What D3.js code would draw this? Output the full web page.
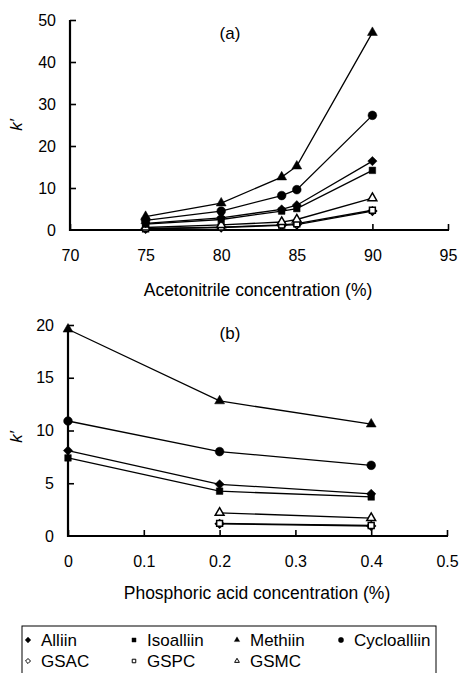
<!DOCTYPE html>
<html><head><meta charset="utf-8">
<script src="https://cdn.jsdelivr.net/npm/d3@7"></script>
<style>body{margin:0;background:#fff}text{font-family:"Liberation Sans",Arial,sans-serif}</style>
</head><body>
<svg id="c" width="461" height="673"></svg>
<script>
// ---- data ----
const seriesNames = ["Alliin","Isoalliin","Methiin","Cycloalliin","GSAC","GSPC","GSMC"];
const acetonitrile = [75, 80, 84, 85, 90];
const aAlliin      = [1.6, 2.9, 4.9, 5.9, 16.4];
const aIsoalliin   = [1.4, 2.5, 4.5, 5.1, 14.2];
const aMethiin     = [3.2, 6.4, 12.6, 15.2, 47.0];
const aCycloalliin = [2.3, 4.5, 8.2, 9.6, 27.3];
const aGSAC        = [0.3, 0.6, 1.1, 1.3, 4.5];
const aGSPC        = [0.3, 0.7, 1.2, 1.5, 4.7];
const aGSMC        = [0.6, 1.2, 1.9, 2.5, 7.6];

const phosphoric   = [0, 0.2, 0.4];
const bAlliin      = [8.1, 4.9, 4.0];
const bIsoalliin   = [7.4, 4.25, 3.7];
const bMethiin     = [19.6, 12.8, 10.6];
const bCycloalliin = [10.9, 8.0, 6.7];
const bGSAC        = [null, 1.15, 0.95];
const bGSPC        = [null, 1.2, 1.0];
const bGSMC        = [null, 2.2, 1.7];

const aTicksX = [70,75,80,85,90,95];
const aTicksY = [0,10,20,30,40,50];
const bTicksX = [0,0.1,0.2,0.3,0.4,0.5];
const bTicksY = [0,5,10,15,20];

const symbols = {
  Alliin:{type:d3.symbolDiamond2, fill:true},
  Isoalliin:{type:d3.symbolSquare2, fill:true},
  Methiin:{type:d3.symbolTriangle2, fill:true},
  Cycloalliin:{type:d3.symbolCircle, fill:true},
  GSAC:{type:d3.symbolDiamond2, fill:false},
  GSPC:{type:d3.symbolSquare2, fill:false},
  GSMC:{type:d3.symbolTriangle2, fill:false}
};

const svg = d3.select("#c");

function panel(opts){
  const g = svg.append("g");
  const x = d3.scaleLinear().domain(opts.xdom).range([opts.x0, opts.x1]);
  const y = d3.scaleLinear().domain(opts.ydom).range([opts.y0, opts.y1]);
  // axes (inner ticks)
  const xa = g.append("g").attr("transform",`translate(0,${opts.y0})`)
    .call(d3.axisBottom(x).tickValues(opts.xt).tickSize(-6).tickPadding(0).tickFormat(opts.xf));
  xa.select(".domain").attr("stroke-width",2.2).attr("d",`M${opts.x0},0H${opts.x1+1}`);
  xa.selectAll(".tick line").attr("stroke-width",1.6);
  xa.selectAll(".tick text").attr("y",opts.xlabDy).attr("font-size",16).attr("fill","#000");
  const ya = g.append("g").attr("transform",`translate(${opts.x0},0)`)
    .call(d3.axisLeft(y).tickValues(opts.yt).tickSize(-6).tickPadding(0));
  ya.select(".domain").attr("stroke-width",2.2).attr("d",`M0,${opts.y0+1}V${opts.y1}`);
  ya.selectAll(".tick line").attr("stroke-width",1.6);
  ya.selectAll(".tick text").attr("x",-14).attr("font-size",16).attr("fill","#000");
  ya.selectAll(".tick").filter(d=>d===0).select("line").remove();

  // titles
  g.append("text").attr("x",opts.titleX).attr("y",opts.titleY).attr("text-anchor","middle")
    .attr("font-size",17).text(opts.title);
  g.append("text").attr("transform",`translate(${opts.kx},${opts.ky}) rotate(-90)`)
    .attr("text-anchor","middle").attr("font-size",17).attr("font-style","italic").text("k\u2032");
  g.append("text").attr("x",opts.labX).attr("y",opts.labY).attr("text-anchor","middle")
    .attr("font-size",17.5).text(opts.lab);

  const line = d3.line().defined(d=>d[1]!==null).x(d=>x(d[0])).y(d=>y(d[1]));
  const order = ["GSAC","GSPC","GSMC","Isoalliin","Alliin","Cycloalliin","Methiin"];
  order.forEach(name=>{
    const vals = opts.data[name];
    const pts = opts.xs.map((xv,i)=>[xv, vals[i]]);
    g.append("path").attr("d", line(pts)).attr("fill","none").attr("stroke","#000").attr("stroke-width",1.3);
  });
  order.forEach(name=>{
    const vals = opts.data[name];
    const s = symbols[name];
    const size = s.type===d3.symbolCircle ? 60 : (s.type===d3.symbolTriangle2 ? 70 : 55);
    opts.xs.forEach((xv,i)=>{
      if(vals[i]===null) return;
      g.append("path").attr("d", d3.symbol(s.type, s.fill?size:size*0.8)())
        .attr("transform",`translate(${x(xv)},${y(vals[i])})`)
        .attr("fill", s.fill?"#000":"#fff").attr("stroke","#000").attr("stroke-width", s.fill?0.5:1.5);
    });
  });
}

panel({
  xdom:[70,95], ydom:[0,50], x0:70, x1:448, y0:230, y1:20,
  xt:aTicksX, yt:aTicksY, xf:d3.format("d"), xlabDy:20,
  title:"(a)", titleX:230, titleY:39, kx:22, ky:125,
  lab:"Acetonitrile concentration (%)", labX:258, labY:296,
  xs:acetonitrile,
  data:{Alliin:aAlliin,Isoalliin:aIsoalliin,Methiin:aMethiin,Cycloalliin:aCycloalliin,GSAC:aGSAC,GSPC:aGSPC,GSMC:aGSMC}
});
panel({
  xdom:[0,0.5], ydom:[0,20], x0:68, x1:447, y0:536, y1:325,
  xt:bTicksX, yt:bTicksY, xf:d=>d===0?"0":d3.format(".1f")(d), xlabDy:20,
  title:"(b)", titleX:230, titleY:339, kx:22, ky:437,
  lab:"Phosphoric acid concentration (%)", labX:257, labY:599,
  xs:phosphoric,
  data:{Alliin:bAlliin,Isoalliin:bIsoalliin,Methiin:bMethiin,Cycloalliin:bCycloalliin,GSAC:bGSAC,GSPC:bGSPC,GSMC:bGSMC}
});

// legend
const lg = svg.append("g");
lg.append("rect").attr("x",22).attr("y",626).attr("width",414).attr("height",60)
  .attr("fill","none").attr("stroke","#000").attr("stroke-width",1);
const colX = [28,134,237,341];
seriesNames.forEach((name,i)=>{
  const row = i<4?0:1, col = i<4?i:i-4;
  const cx = colX[col], cy = row===0?640:661;
  const s = symbols[name];
  lg.append("path").attr("d", d3.symbol(s.type, s.fill?22:16)())
    .attr("transform",`translate(${cx},${cy})`)
    .attr("fill", s.fill?"#000":"#fff").attr("stroke","#000").attr("stroke-width", s.fill?0.3:1);
  lg.append("text").attr("x",cx+13).attr("y",cy+6).attr("font-size",17).text(name);
});
</script>
</body></html>
